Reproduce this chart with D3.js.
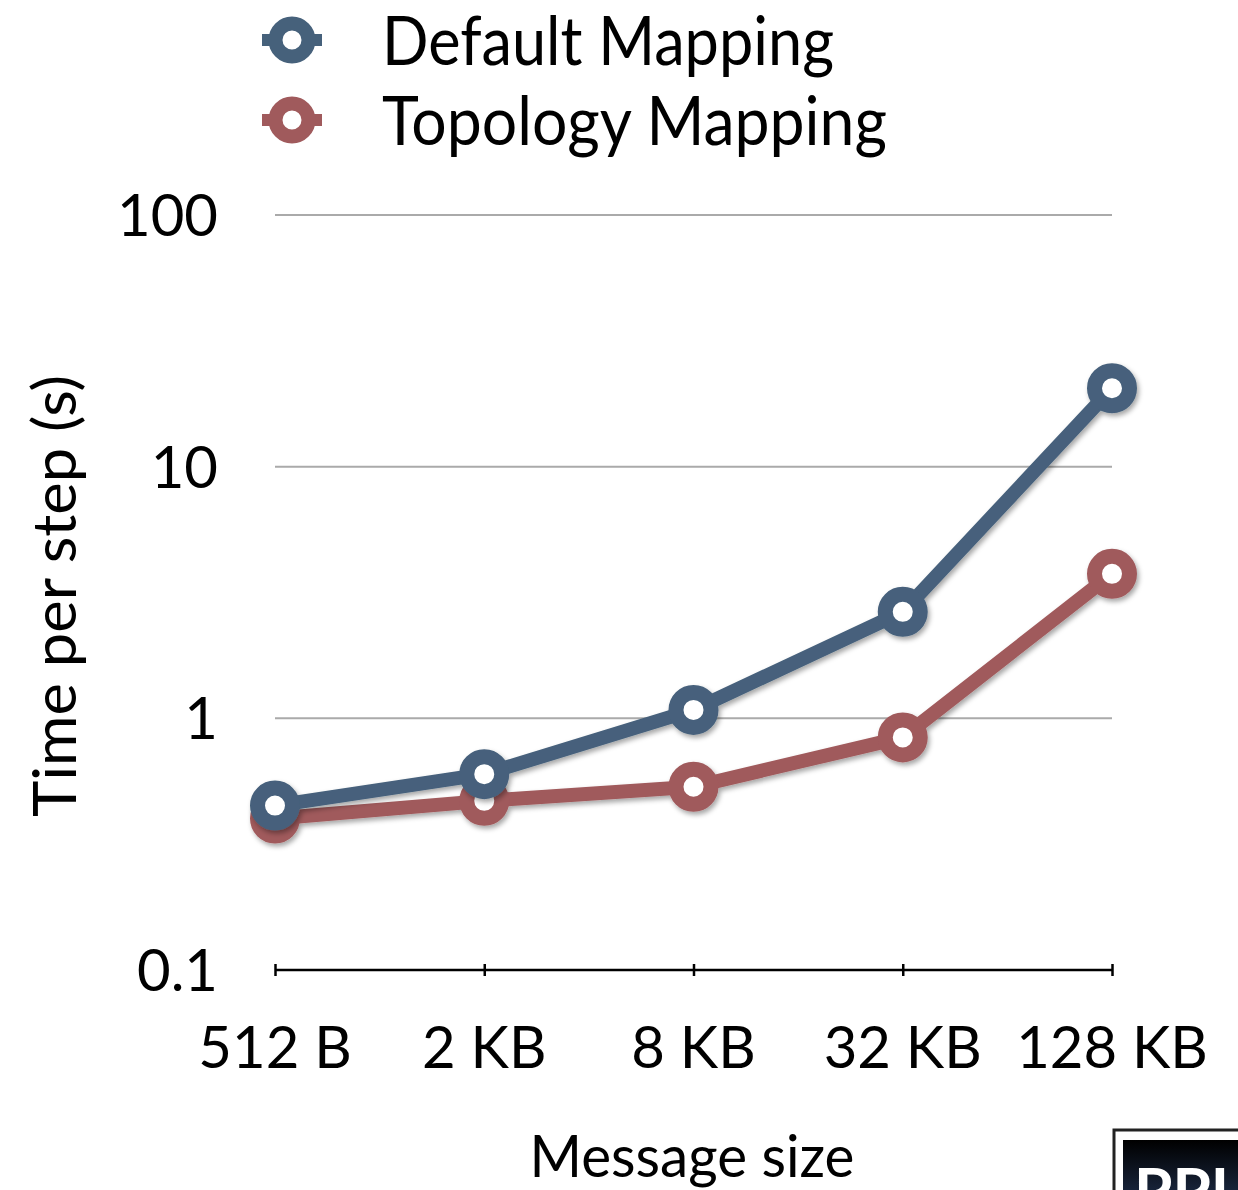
<!DOCTYPE html>
<html>
<head>
<meta charset="utf-8">
<script src="https://cdn.jsdelivr.net/npm/d3@7"></script>
<style>
  html, body { margin: 0; padding: 0; background: #fff; }
  svg { display: block; }
  text { font-family: Lato, "Noto Sans", sans-serif; fill: #000; }
</style>
</head>
<body>
<script>
// Message sizes on the x axis
const categories = ["512 B", "2 KB", "8 KB", "32 KB", "128 KB"];
// Time per step (s) for each mapping
const defaultMapping = [0.45, 0.60, 1.08, 2.65, 20.5];
const topologyMapping = [0.40, 0.47, 0.535, 0.84, 3.75];
// Log-axis ticks
const yTicks = [0.1, 1, 10, 100];
const yTickLabels = ["0.1", "1", "10", "100"];

const seriesNames = ["Default Mapping", "Topology Mapping"];
const seriesColors = ["#46617b", "#a05a5c"];
// Set widths for the legend labels (condensed humanist look)
const legendWidths = [452, 505];

const W = 1238, H = 1190;
const svg = d3.select("body").append("svg").attr("width", W).attr("height", H);

const defs = svg.append("defs");
const shadow = defs.append("filter").attr("id", "shadow")
  .attr("x", "-20%").attr("y", "-20%").attr("width", "140%").attr("height", "140%");
shadow.append("feDropShadow").attr("dx", 2).attr("dy", 3)
  .attr("stdDeviation", 2.5).attr("flood-color", "#000").attr("flood-opacity", 0.35);

const x = d3.scalePoint().domain(categories).range([275, 1112]);
const y = d3.scaleLog().domain([0.1, 100]).range([970, 215]);

// Horizontal gridlines
svg.append("g").selectAll("line").data(yTicks.slice(1)).join("line")
  .attr("x1", 275).attr("x2", 1112)
  .attr("y1", d => y(d)).attr("y2", d => y(d))
  .attr("stroke", "#aaaaaa").attr("stroke-width", 2);

// Y tick labels
svg.append("g").selectAll("text").data(yTicks).join("text")
  .attr("x", 218).attr("y", d => y(d) + 21)
  .attr("text-anchor", "end").attr("font-size", 58)
  .text((d, i) => yTickLabels[i]);

// X axis line and ticks
const xAxis = d3.axisBottom(x).tickSizeInner(0).tickSizeOuter(0).tickFormat("");
const gx = svg.append("g").attr("transform", "translate(0,970)").call(xAxis);
gx.select(".domain").attr("stroke", "#000").attr("stroke-width", 2.5)
  .attr("d", `M275,0H1112`);
gx.selectAll(".tick line").attr("y1", -6).attr("y2", 6).attr("stroke", "#000").attr("stroke-width", 2.5);

// X tick labels
svg.append("g").selectAll("text").data(categories).join("text")
  .attr("x", d => x(d)).attr("y", 1068)
  .attr("text-anchor", "middle").attr("font-size", 58)
  .text(d => d);

// Axis titles
svg.append("text").attr("x", 692).attr("y", 1177)
  .attr("text-anchor", "middle").attr("font-size", 58)
  .attr("textLength", 325).attr("lengthAdjust", "spacingAndGlyphs")
  .text("Message size");
svg.append("text").attr("transform", "translate(76,596) rotate(-90)")
  .attr("text-anchor", "middle").attr("font-size", 60)
  .attr("textLength", 442).attr("lengthAdjust", "spacingAndGlyphs")
  .text("Time per step (s)");

// Series lines and markers (topology first, default drawn over it)
const line = d3.line().x((d, i) => x(categories[i])).y(d => y(d));
const series = [topologyMapping, defaultMapping];
const seriesColorFor = [seriesColors[1], seriesColors[0]];
series.forEach((vals, s) => {
  const g = svg.append("g").attr("filter", "url(#shadow)");
  g.append("path").datum(vals).attr("d", line)
    .attr("fill", "none").attr("stroke", seriesColorFor[s])
    .attr("stroke-width", 14).attr("stroke-linejoin", "round");
  g.selectAll("circle").data(vals).join("circle")
    .attr("cx", (d, i) => x(categories[i])).attr("cy", d => y(d))
    .attr("r", 17.5).attr("fill", "#fff")
    .attr("stroke", seriesColorFor[s]).attr("stroke-width", 15);
});

// Legend
const legend = svg.append("g");
seriesNames.forEach((name, i) => {
  const cy = 40 + i * 80;
  const lg = legend.append("g");
  lg.append("line").attr("x1", 262).attr("x2", 322).attr("y1", cy).attr("y2", cy)
    .attr("stroke", seriesColors[i]).attr("stroke-width", 12);
  lg.append("circle").attr("cx", 292).attr("cy", cy).attr("r", 16.5)
    .attr("fill", "#fff").attr("stroke", seriesColors[i]).attr("stroke-width", 14);
  legend.append("text").attr("x", 382).attr("y", cy + 25)
    .attr("font-size", 68)
    .attr("textLength", legendWidths[i]).attr("lengthAdjust", "spacingAndGlyphs")
    .text(name);
});

// Corner badge
const grad = defs.append("linearGradient").attr("id", "badge")
  .attr("x1", 0).attr("y1", 0).attr("x2", 0).attr("y2", 1);
grad.append("stop").attr("offset", "0%").attr("stop-color", "#000");
grad.append("stop").attr("offset", "100%").attr("stop-color", "#2a3f66");
const badge = svg.append("g");
badge.append("rect").attr("x", 1114).attr("y", 1130).attr("width", 160).attr("height", 100)
  .attr("fill", "#fff").attr("stroke", "#222").attr("stroke-width", 3);
badge.append("rect").attr("x", 1123).attr("y", 1140).attr("width", 150).attr("height", 90)
  .attr("fill", "url(#badge)");
badge.append("text").attr("x", 1134).attr("y", 1212).attr("font-size", 62)
  .attr("font-family", "'Liberation Serif', serif").attr("font-weight", "bold")
  .style("fill", "#fff").text("PPL");
</script>
</body>
</html>
